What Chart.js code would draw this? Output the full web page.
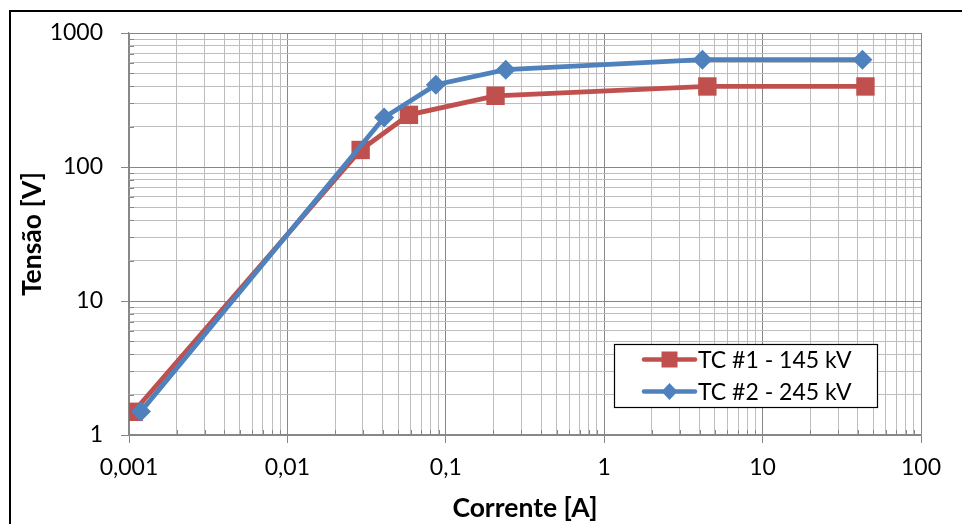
<!DOCTYPE html>
<html>
<head>
<meta charset="utf-8">
<script src="https://cdn.jsdelivr.net/npm/chart.js@4.4.1/dist/chart.umd.min.js"></script>
<style>
  html, body { margin: 0; padding: 0; background: #ffffff; }
  #wrap { width: 962px; height: 524px; position: relative; }
</style>
</head>
<body>
<div id="wrap"><canvas id="c" width="962" height="524"></canvas></div>
<script>
// ---- data ----
const seriesNames = ['TC #1 - 145 kV', 'TC #2 - 245 kV'];
const currentTC1 = [0.00107, 0.029, 0.0585, 0.206, 4.48, 44.6];
const voltageTC1 = [1.49, 134, 245, 340, 399, 399];
const currentTC2 = [0.00119, 0.0408, 0.0866, 0.239, 4.17, 42.7];
const voltageTC2 = [1.5, 234, 411, 532, 632, 632];

const xMajorTicks = [0.001, 0.01, 0.1, 1, 10, 100];
const xTickLabels = ['0,001', '0,01', '0,1', '1', '10', '100'];
const yMajorTicks = [1, 10, 100, 1000];
const yTickLabels = ['1', '10', '100', '1000'];

const xTitle = 'Corrente [A]';
const yTitle = 'Tensão [V]';

// ---- helpers ----
function isMajorVal(v) {
  const l = Math.log10(v);
  return Math.abs(l - Math.round(l)) < 1e-9;
}
function logTicks(majors) {
  const out = [];
  for (let i = 0; i < majors.length; i++) {
    const m = majors[i];
    out.push({ value: m });
    if (i < majors.length - 1) {
      for (let k = 2; k <= 9; k++) out.push({ value: +(m * k).toPrecision(6) });
    }
  }
  return out;
}
function labelFor(v, majors, labels) {
  for (let i = 0; i < majors.length; i++) {
    if (Math.abs(Math.log10(v) - Math.log10(majors[i])) < 1e-9) return labels[i];
  }
  return '';
}
function pts(xs, ys) { return xs.map((x, i) => ({ x: x, y: ys[i] })); }

const RED = '#C0504D';
const BLUE = '#4F81BD';
const MAJOR_GRID = '#878787';
const MINOR_GRID = '#bdbdbd';
const FONT = 'Lato, "Open Sans", sans-serif';

// border around chart (left & top visible)
const framePlugin = {
  id: 'frame',
  beforeDraw(chart) {
    const ctx = chart.ctx;
    ctx.save();
    ctx.fillStyle = '#ffffff';
    ctx.fillRect(0, 0, chart.width, chart.height);
    ctx.strokeStyle = '#000000';
    ctx.lineWidth = 2;
    ctx.beginPath();
    ctx.moveTo(10, chart.height + 2);
    ctx.lineTo(10, 11);
    ctx.lineTo(chart.width + 2, 11);
    ctx.stroke();
    ctx.restore();
  }
};

// short inner tick marks for minor gridlines
const innerTicksPlugin = {
  id: 'innerTicks',
  beforeDatasetsDraw(chart) {
    const ctx = chart.ctx;
    const xs = chart.scales.x, ys = chart.scales.y;
    const a = chart.chartArea;
    ctx.save();
    ctx.strokeStyle = MAJOR_GRID;
    ctx.lineWidth = 1;
    ctx.beginPath();
    xs.ticks.forEach(t => {
      if (isMajorVal(t.value)) return;
      const px = Math.round(xs.getPixelForValue(t.value)) + 0.5;
      ctx.moveTo(px, a.bottom);
      ctx.lineTo(px, a.bottom - 5);
    });
    ys.ticks.forEach(t => {
      if (isMajorVal(t.value)) return;
      const py = Math.round(ys.getPixelForValue(t.value)) + 0.5;
      ctx.moveTo(a.left, py);
      ctx.lineTo(a.left + 5, py);
    });
    ctx.stroke();
    ctx.restore();
  }
};

// legend drawn inside the plot area
const boxLegendPlugin = {
  id: 'boxLegend',
  afterDraw(chart) {
    const ctx = chart.ctx;
    const bx = 614.5, by = 344.5, bw = 263, bh = 63;
    ctx.save();
    ctx.fillStyle = '#ffffff';
    ctx.fillRect(bx, by, bw, bh);
    ctx.strokeStyle = '#000000';
    ctx.lineWidth = 1.2;
    ctx.strokeRect(bx, by, bw, bh);
    const rows = [359.5, 391.5];
    chart.data.datasets.forEach((ds, i) => {
      const y = rows[i];
      ctx.strokeStyle = ds.borderColor;
      ctx.lineWidth = 4.5;
      ctx.lineCap = 'round';
      ctx.beginPath();
      ctx.moveTo(644, y);
      ctx.lineTo(695, y);
      ctx.stroke();
      ctx.fillStyle = ds.borderColor;
      const cx = 669.5;
      if (ds.pointStyle === 'rect') {
        ctx.fillRect(cx - 8, y - 8, 16, 16);
      } else {
        ctx.beginPath();
        ctx.moveTo(cx - 8, y);
        ctx.lineTo(cx, y - 8.5);
        ctx.lineTo(cx + 8, y);
        ctx.lineTo(cx, y + 8.5);
        ctx.closePath();
        ctx.fill();
      }
      ctx.fillStyle = '#000000';
      ctx.font = '23px ' + FONT;
      ctx.textBaseline = 'middle';
      ctx.textAlign = 'left';
      ctx.fillText(ds.label, 698, y + 1);
    });
    ctx.restore();
  }
};

new Chart(document.getElementById('c'), {
  type: 'line',
  data: {
    datasets: [
      {
        label: seriesNames[0],
        data: pts(currentTC1, voltageTC1),
        borderColor: RED,
        backgroundColor: RED,
        borderWidth: 4.8,
        pointStyle: 'rect',
        pointRadius: 13,
        pointHoverRadius: 13,
        pointBorderWidth: 0,
        tension: 0,
        order: 2
      },
      {
        label: seriesNames[1],
        data: pts(currentTC2, voltageTC2),
        borderColor: BLUE,
        backgroundColor: BLUE,
        borderWidth: 4.8,
        pointStyle: 'rectRot',
        pointRadius: 10,
        pointHoverRadius: 10,
        pointBorderWidth: 0,
        tension: 0,
        order: 1
      }
    ]
  },
  options: {
    responsive: false,
    devicePixelRatio: 1,
    animation: false,
    events: [],
    layout: { padding: { left: 0, top: 33, right: 41, bottom: 0 } },
    plugins: { legend: { display: false }, tooltip: { enabled: false } },
    scales: {
      x: {
        type: 'logarithmic',
        position: 'bottom',
        min: xMajorTicks[0],
        max: xMajorTicks[xMajorTicks.length - 1],
        afterBuildTicks: s => { s.ticks = logTicks(xMajorTicks); },
        afterFit: s => { s.height = 89; },
        border: { color: MAJOR_GRID, width: 1.2 },
        grid: {
          color: c => (c.tick && isMajorVal(c.tick.value)) ? MAJOR_GRID : MINOR_GRID,
          tickColor: c => (c.tick && isMajorVal(c.tick.value)) ? MAJOR_GRID : 'rgba(0,0,0,0)',
          tickLength: 8,
          lineWidth: 1
        },
        ticks: {
          autoSkip: false,
          maxRotation: 0,
          minRotation: 0,
          padding: 11,
          color: '#000000',
          font: { family: FONT, size: 23 },
          callback: v => labelFor(v, xMajorTicks, xTickLabels)
        },
        title: {
          display: true,
          text: xTitle,
          color: '#000000',
          font: { family: FONT, size: 26.5, weight: 'bold' },
          padding: { top: 0, bottom: 0 }
        }
      },
      y: {
        type: 'logarithmic',
        position: 'left',
        min: yMajorTicks[0],
        max: yMajorTicks[yMajorTicks.length - 1],
        afterBuildTicks: s => { s.ticks = logTicks(yMajorTicks); },
        afterFit: s => { s.width = 129; },
        border: { color: MAJOR_GRID, width: 1.2 },
        grid: {
          color: c => (c.tick && isMajorVal(c.tick.value)) ? MAJOR_GRID : MINOR_GRID,
          tickColor: c => (c.tick && isMajorVal(c.tick.value)) ? MAJOR_GRID : 'rgba(0,0,0,0)',
          tickLength: 8,
          lineWidth: 1
        },
        ticks: {
          autoSkip: false,
          padding: 18,
          color: '#000000',
          font: { family: FONT, size: 23 },
          callback: v => labelFor(v, yMajorTicks, yTickLabels)
        },
        title: {
          display: true,
          text: yTitle,
          color: '#000000',
          font: { family: FONT, size: 26.5, weight: 'bold' },
          padding: { top: 17, bottom: 0 }
        }
      }
    }
  },
  plugins: [framePlugin, innerTicksPlugin, boxLegendPlugin]
});
</script>
</body>
</html>
